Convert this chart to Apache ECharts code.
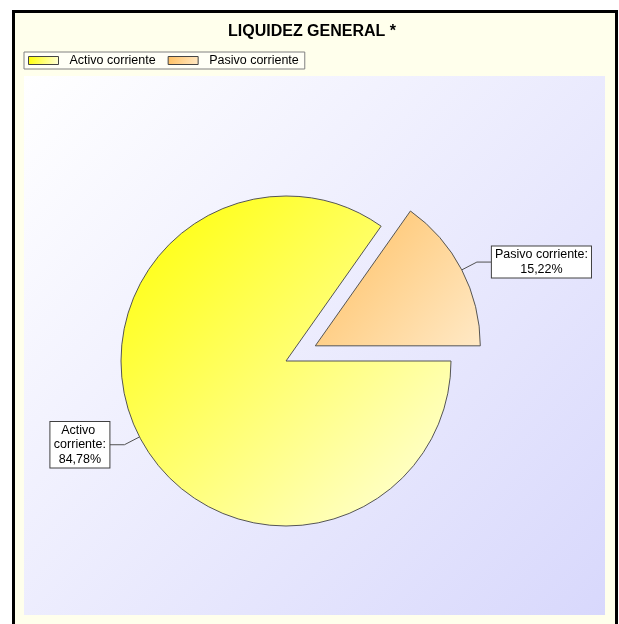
<!DOCTYPE html>
<html>
<head>
<meta charset="utf-8">
<script src="https://cdn.jsdelivr.net/npm/echarts@6/dist/echarts.min.js"></script>
<style>
html,body{margin:0;padding:0;background:#fff;}
#chart{width:619px;height:624px;}
</style>
</head>
<body>
<div id="chart"></div>
<script>
const titleText = 'LIQUIDEZ GENERAL *';
const categories = ['Activo corriente', 'Pasivo corriente'];
const values = [84.78, 15.22];
const explodedIndex = 1;

const FONT = '"Liberation Sans", Arial, sans-serif';

const sliceColors = [
  {type:'linear', x:0, y:0, x2:1, y2:1, colorStops:[{offset:0,color:'#FFFF00'},{offset:1,color:'#FFFFE0'}]},
  {type:'linear', x:0, y:0, x2:1, y2:1, colorStops:[{offset:0,color:'#FFBF60'},{offset:1,color:'#FFE9C6'}]}
];

const data = categories.map((name, i) => {
  const item = { name: name, value: values[i], itemStyle: { color: sliceColors[i] } };
  if (i === explodedIndex) item.selected = true;
  if (i === 0) item.label = { width: 53, overflow: 'break' };
  return item;
});

const chart = echarts.init(document.getElementById('chart'), null, {renderer:'canvas'});
chart.setOption({
  animation: false,
  backgroundColor: '#ffffff',
  graphic: [
    { type:'rect', z:-10, shape:{x:13.5, y:11.5, width:603, height:700},
      style:{fill:'#FFFFEC', stroke:'#000', lineWidth:3} },
    { type:'rect', z:-9, shape:{x:24, y:76, width:581, height:539},
      style:{fill:{type:'linear', x:0, y:0, x2:1, y2:1, colorStops:[{offset:0,color:'#FFFFFF'},{offset:1,color:'#D8D8FC'}]}} }
  ],
  title: {
    text: titleText,
    left: 312, top: 24, padding: 0, textAlign: 'center',
    textStyle: { fontFamily: FONT, fontSize: 16, fontWeight: 'bold', color: '#000' }
  },
  legend: {
    data: categories,
    left: 24, top: 52,
    orient: 'horizontal',
    padding: [1, 6, 1, 4],
    borderColor: '#808080', borderWidth: 1, backgroundColor: '#FFFFF6',
    itemWidth: 30, itemHeight: 8, itemGap: 12,
    icon: 'rect',
    itemStyle: { borderColor: '#444', borderWidth: 1 },
    selectedMode: false,
    textStyle: { fontFamily: FONT, fontSize: 12.5, color: '#000', lineHeight: 15, padding: [0,0,0,6] }
  },
  series: [{
    type: 'pie',
    center: [286, 361],
    radius: 165,
    startAngle: 0,
    clockwise: true,
    selectedMode: 'single',
    selectedOffset: 33,
    avoidLabelOverlap: false,
    emphasis: { disabled: true },
    itemStyle: { borderColor: '#555', borderWidth: 1 },
    label: {
      show: true,
      position: 'outside',
      alignTo: 'none',
      distanceToLabelLine: 0,
      backgroundColor: '#ffffff',
      borderColor: '#404040',
      borderWidth: 1,
      padding: [1, 3],
      color: '#000',
      fontFamily: FONT,
      fontSize: 12.5,
      lineHeight: 14.5,
      formatter: p => '{t|' + p.name + ':}\n{t|' + p.value.toFixed(2).replace('.', ',') + '%}',
      rich: { t: { align: 'center', fontFamily: FONT, fontSize: 12.5, lineHeight: 14.5, color: '#000' } }
    },
    labelLine: { show: true, length: 17, length2: 15, lineStyle: { color: '#505050', width: 1 } },
    data: data
  }]
});
</script>
</body>
</html>
